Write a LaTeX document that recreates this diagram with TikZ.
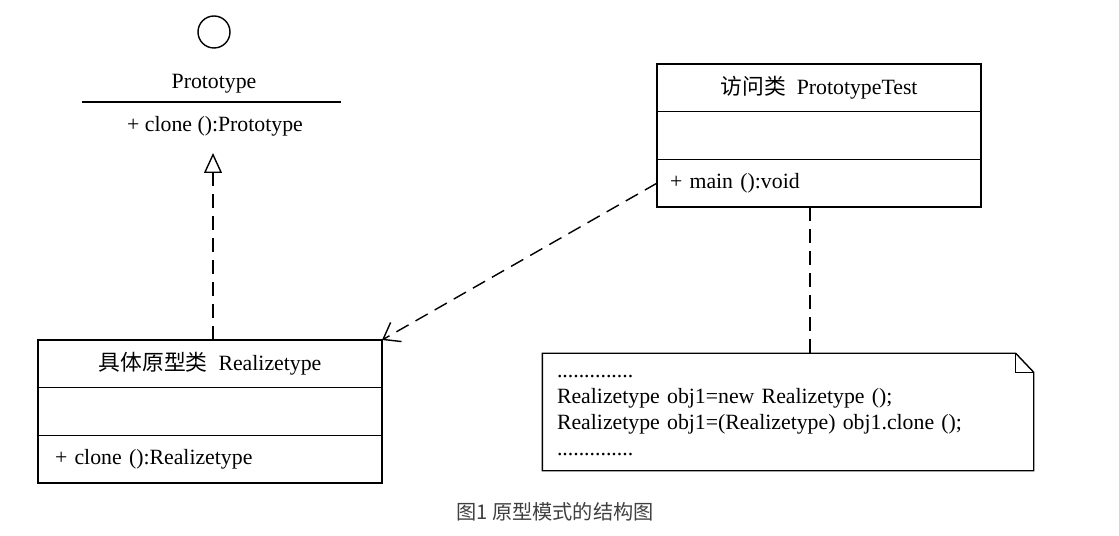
\documentclass[tikz,border=0pt]{standalone}
\usepackage{fontspec}
\setmainfont{Liberation Serif}
\newfontfamily\cjk{Noto Sans CJK SC}
\usetikzlibrary{arrows.meta, positioning, calc}

\begin{document}
\begin{tikzpicture}[line width=0.8pt, font=\fontsize{12.4}{14.8}\selectfont,
    part/.style={draw, outer sep=0pt, inner sep=0pt, minimum height=0.953cm},
    dsh/.style={dash pattern=on 0.28cm off 0.16cm}]
                \useasboundingbox (0,0) rectangle (22.38,-10.72);
                \node[draw, circle, minimum size=0.64cm] (pc) at (4.28,-0.64) {};
                \node (proto) at (4.28,-1.67) {Prototype};
                \draw (1.64,-2.04) -- (6.82,-2.04);
                \node (pclone) at (4.30,-2.52) {+ clone ():Prototype};
                \coordinate (tip) at (4.26,-3.06);

                \node[part, minimum width=6.88cm] (rt1) at (4.20,-7.277) {{\cjk 具体原型类}\ \ Realizetype};
                \node[part, minimum width=6.88cm, below=0pt of rt1] (rt2) {};
                \node[part, below=0pt of rt2, text width=6.2cm, inner xsep=0.34cm, align=left] (rt3) {+ clone ():Realizetype};

                \node[part, minimum width=6.48cm] (pt1) at (16.38,-1.757) {{\cjk 访问类}\ \ PrototypeTest};
                \node[part, minimum width=6.48cm, below=0pt of pt1] (pt2) {};
                \node[part, below=0pt of pt2, text width=5.96cm, inner xsep=0.26cm, align=left] (pt3) {+ main ():void};

                \node[inner sep=0pt, minimum width=9.8cm, minimum height=2.32cm, text width=9.24cm, align=left] (note) at (15.76,-8.24)
                    {\rule{0pt}{0.2cm}..............\\Realizetype obj1=new Realizetype ();\\Realizetype obj1=(Realizetype) obj1.clone ();\\..............};
                \draw (note.north west) -- ($(note.north east)+(-0.36,0)$) -- ($(note.north east)+(0,-0.38)$) -- (note.south east) -- (note.south west) -- cycle;
                \draw ($(note.north east)+(-0.36,0)$) -- ($(note.north east)+(-0.36,-0.38)$) -- ($(note.north east)+(0,-0.38)$);
                \coordinate (nt) at ($(pt3.south)+(-0.18,0)$);

                \draw[dsh, -{Triangle[open, length=0.4cm, width=0.36cm]}] (rt1.north -| tip) -- (tip);
                \draw[dsh, -{Straight Barb[length=0.3cm, width=0.44cm]}] (pt3.west) -- (rt1.north east);
                \draw[dsh] (nt) -- (nt |- note.north);

                \node[font=\cjk\fontsize{11.5}{13}\selectfont, text=black!75] (cap) at (11.1,-10.24) {图1 原型模式的结构图};
            \end{tikzpicture}
\end{document}
